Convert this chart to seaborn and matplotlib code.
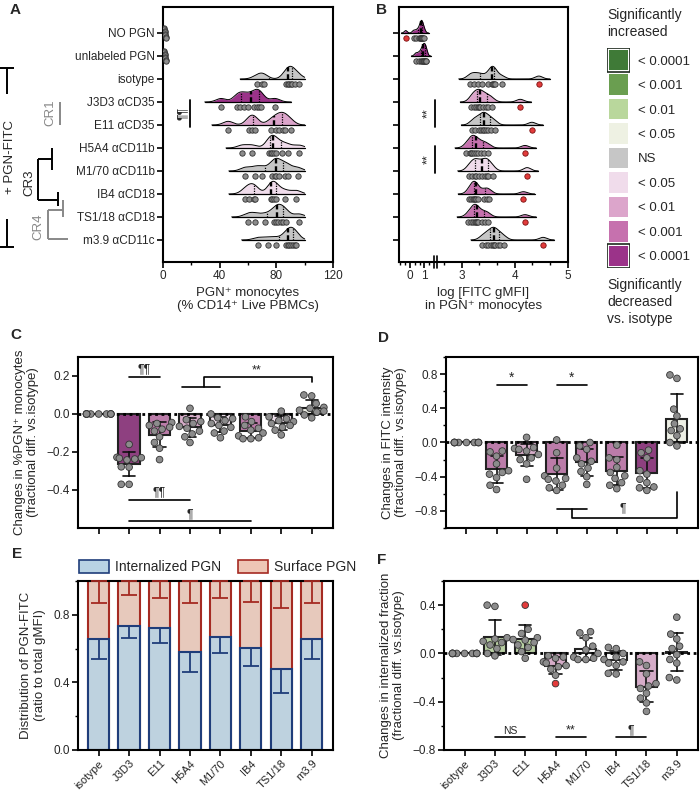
import numpy as np
import pandas as pd
import matplotlib
matplotlib.use("Agg")
import matplotlib.pyplot as plt
import seaborn as sns
from matplotlib.colors import ListedColormap
from matplotlib.patches import Patch, Rectangle
from matplotlib import transforms

sns.set_style("ticks")
plt.rcParams['font.family'] = ['Liberation Sans', 'DejaVu Sans']
plt.rcParams['font.size'] = 9
plt.rcParams['axes.linewidth'] = 1.5

# ---------------- data ----------------
rows_a = ["NO PGN", "unlabeled PGN", "isotype", "J3D3 αCD35", "E11 αCD35", "H5A4 αCD11b",
          "M1/70 αCD11b", "IB4 αCD18", "TS1/18 αCD18", "m3.9 αCD11c"]
cats = ["isotype", "J3D3", "E11", "H5A4", "M1/70", "IB4", "TS1/18", "m3.9"]

# A: % PGN+ monocytes
pct_pgn = [
    [0.8, 1.0, 1.2, 1.3, 1.5, 1.6, 1.8, 2.0],
    [0.8, 1.0, 1.2, 1.4, 1.5, 1.7, 1.9, 2.1],
    [66, 70, 71, 87, 88, 89, 90, 91, 93, 96],
    [41, 52, 54, 57, 60, 64, 66, 68, 69, 79],
    [46, 61, 63, 65, 76, 80, 82, 85, 86, 90],
    [56, 63, 75, 76, 77, 78, 80, 84, 88, 96],
    [58, 65, 70, 77, 79, 80, 82, 86, 88, 95],
    [58, 61, 64, 65, 76, 77, 78, 80, 86, 94],
    [60, 65, 72, 78, 80, 81, 83, 85, 87, 96],
    [67, 74, 80, 87, 88, 89, 90, 92, 93, 94],
]
# B: log FITC gMFI (gray points + one red outlier per row)
log_gmfi = [
    [0.25, 0.45, 0.6, 0.7, 0.75, 0.8, 0.82, 0.85, 0.9, 1.0],
    [0.4, 0.6, 0.75, 0.85, 0.9, 0.95, 1.0, 1.05, 1.1, 1.15],
    [3.15, 3.22, 3.3, 3.38, 3.5, 3.56, 3.58, 3.6, 3.62, 3.75],
    [3.18, 3.22, 3.26, 3.3, 3.33, 3.35, 3.4, 3.45, 3.5, 3.57],
    [3.2, 3.25, 3.32, 3.36, 3.4, 3.42, 3.45, 3.5, 3.55, 3.62],
    [3.08, 3.15, 3.18, 3.2, 3.23, 3.26, 3.3, 3.37, 3.42, 3.5],
    [3.13, 3.2, 3.24, 3.27, 3.33, 3.38, 3.44, 3.47, 3.5, 3.58],
    [3.14, 3.18, 3.21, 3.23, 3.25, 3.27, 3.3, 3.42, 3.47, 3.52],
    [3.12, 3.18, 3.21, 3.24, 3.26, 3.28, 3.3, 3.38, 3.44, 3.5],
    [3.38, 3.45, 3.5, 3.55, 3.58, 3.6, 3.63, 3.68, 3.72, 3.8],
]
log_gmfi_out = [-0.3, np.nan, 4.45, 4.1, 4.32, 4.19, 4.23, 4.16, 4.19, 4.53]

# C: fractional change in %PGN+
chg_pct = {
    "isotype": [0.0] * 10,
    "J3D3": [-0.16, -0.228, -0.23, -0.233, -0.237, -0.242, -0.278, -0.28, -0.37, -0.37],
    "E11": [-0.045, -0.05, -0.06, -0.07, -0.08, -0.09, -0.12, -0.15, -0.18, -0.24],
    "H5A4": [0.03, -0.03, -0.04, -0.05, -0.065, -0.075, -0.09, -0.105, -0.12, -0.15],
    "M1/70": [0.0, -0.02, -0.025, -0.035, -0.05, -0.06, -0.07, -0.09, -0.1, -0.125],
    "IB4": [-0.015, -0.04, -0.06, -0.075, -0.085, -0.1, -0.115, -0.125, -0.13, -0.13],
    "TS1/18": [0.015, -0.015, -0.025, -0.035, -0.04, -0.05, -0.06, -0.07, -0.085, -0.11],
    "m3.9": [0.1, 0.095, 0.055, 0.035, 0.03, 0.02, 0.015, 0.01, -0.005, -0.02],
}
# D: fractional change in FITC intensity
chg_fitc = {
    "isotype": [0.0] * 10,
    "J3D3": [-0.1, -0.11, -0.16, -0.25, -0.33, -0.35, -0.37, -0.41, -0.5, -0.55],
    "E11": [0.06, -0.06, -0.07, -0.08, -0.1, -0.14, -0.18, -0.2, -0.25, -0.43],
    "H5A4": [0.03, -0.12, -0.3, -0.39, -0.42, -0.43, -0.45, -0.5, -0.53, -0.56],
    "M1/70": [0.0, -0.04, -0.08, -0.18, -0.22, -0.25, -0.3, -0.34, -0.4, -0.49],
    "IB4": [-0.03, -0.18, -0.2, -0.29, -0.35, -0.39, -0.42, -0.47, -0.5, -0.54],
    "TS1/18": [-0.09, -0.12, -0.18, -0.33, -0.37, -0.43, -0.47, -0.52, -0.53, -0.56],
    "m3.9": [0.79, 0.75, 0.39, 0.31, 0.22, 0.16, 0.14, 0.08, 0.0, -0.04],
}
# E: internalized fraction (mean, SD) and surface SD
internal_mean = [0.654, 0.732, 0.722, 0.581, 0.667, 0.605, 0.478, 0.654]
internal_sd = [0.114, 0.072, 0.088, 0.122, 0.091, 0.107, 0.142, 0.117]
surface_sd = [0.128, 0.083, 0.099, 0.132, 0.102, 0.122, 0.161, 0.132]
# F: fractional change in internalized fraction
chg_int = {
    "isotype": [0.0] * 10,
    "J3D3": [0.4, 0.39, 0.13, 0.12, 0.1, 0.09, 0.07, 0.04, 0.0, -0.02],
    "E11": [0.2, 0.165, 0.13, 0.115, 0.11, 0.09, 0.07, 0.05, 0.015, -0.04],
    "H5A4": [-0.02, -0.03, -0.04, -0.07, -0.08, -0.1, -0.11, -0.13, -0.18],
    "M1/70": [0.18, 0.17, 0.13, 0.06, 0.03, 0.0, -0.03, -0.04, -0.05, -0.05],
    "IB4": [0.05, 0.04, 0.0, -0.03, -0.05, -0.07, -0.08, -0.1, -0.165, -0.17],
    "TS1/18": [-0.07, -0.1, -0.17, -0.25, -0.27, -0.29, -0.33, -0.37, -0.41, -0.48],
    "m3.9": [0.3, 0.16, 0.12, 0.06, 0.04, -0.01, -0.05, -0.08, -0.2, -0.22],
}
chg_int_out = {"E11": [0.4], "H5A4": [-0.25]}

# significance colour scale
sig_labels = ["< 0.0001", "< 0.001", "< 0.01", "< 0.05", "NS", "< 0.05", "< 0.01", "< 0.001", "< 0.0001"]
sig_colors = ["#3f7a37", "#6a9e50", "#b9d79c", "#eef1e3", "#c6c6c6", "#f0dceb", "#dca5cb", "#c671ae", "#9b3389"]
G_NS, UP05, UP01, DN05, DN01, DN001, DN0001 = (sig_colors[4], sig_colors[3], sig_colors[2],
                                               sig_colors[5], sig_colors[6], sig_colors[7], sig_colors[8])

ridge_col_a = [None, None, G_NS, DN0001, DN01, DN05, G_NS, DN05, G_NS, G_NS]
ridge_col_b = [DN0001, DN0001, G_NS, DN01, G_NS, DN001, DN05, DN001, DN001, G_NS]
bar_col_c = [G_NS, DN0001, DN001, DN01, DN05, DN001, DN05, UP05]
bar_col_d = [G_NS, DN001, DN01, DN001, DN001, DN001, DN0001, UP05]
bar_col_f = [G_NS, UP01, UP01, DN01, "white", "white", DN01, "white"]

DOT = "#8c8c8c"
DOT_EDGE = "#333333"
RED = "#e23b3b"

# ---------------- layout ----------------
W, H = 700, 791
fig = plt.figure(figsize=(W / 100, H / 100), dpi=100)


def box(l, t, r, b):
    return [l / W, 1 - b / H, (r - l) / W, (b - t) / H]


ov = fig.add_axes([0, 0, 1, 1])
ov.set_xlim(0, W)
ov.set_ylim(H, 0)
ov.axis("off")


def style_ticks(ax):
    ax.tick_params(which="major", length=4, width=1.2, labelsize=8.5, color="k", pad=2)
    ax.tick_params(which="minor", length=2.5, width=1.0, color="k")
    for s in ax.spines.values():
        s.set_linewidth(1.5)
        s.set_color("k")


def ridge(ax, vals, row, color, bw, cut=3.0, hi_clip=None, h=0.55, extra=()):
    allv = np.array(list(vals) + [e for e in extra if not np.isnan(e)])
    lo, hi = allv.min() - cut * bw, allv.max() + cut * bw
    if hi_clip is not None:
        hi = min(hi, hi_clip)
    g = np.linspace(lo, hi, 500)
    d = np.exp(-0.5 * ((g[:, None] - allv[None, :]) / bw) ** 2).sum(axis=1)
    d = d / d.max() * h
    ax.fill_between(g, row, row - d, color=color, lw=0, zorder=2)
    ax.plot(g, row - d, color="k", lw=0.7, zorder=3)
    ax.plot([lo, hi], [row, row], color="k", lw=0.9, zorder=3)
    q1, med, q3 = np.percentile(allv, [25, 50, 75])
    for q, ls, lw in [(q1, (0, (1, 1)), 0.9), (med, (0, (2, 1.2)), 1.7), (q3, (0, (1, 1)), 0.9)]:
        dq = np.interp(q, g, d)
        ax.plot([q, q], [row, row - dq], color="k", lw=lw, ls=ls, zorder=3)
    ax.scatter(vals, np.full(len(vals), row + 0.22), s=15, c=DOT, edgecolors=DOT_EDGE,
               linewidths=0.6, zorder=4)
    for e in extra:
        if not np.isnan(e):
            ax.scatter([e], [row + 0.22], s=15, c=RED, edgecolors="#7a1010", linewidths=0.6, zorder=4)


# ---------------- A ----------------
axA = fig.add_axes(box(163, 7, 333, 262))
for i, vals in enumerate(pct_pgn):
    if ridge_col_a[i] is None:
        offs = np.linspace(-0.22, 0.22, len(vals))
        axA.scatter(vals, i + offs, s=15, c=DOT, edgecolors=DOT_EDGE, linewidths=0.6, zorder=4)
    else:
        ridge(axA, vals, i, ridge_col_a[i], bw=3.5, cut=3.3, hi_clip=100)
axA.set_xlim(0, 120)
axA.set_ylim(9.96, -1.13)
axA.set_xticks([0, 40, 80, 120])
axA.set_xticks([20, 60, 100], minor=True)
axA.set_yticks(range(10))
axA.set_yticklabels(rows_a)
axA.set_xlabel("PGN⁺ monocytes\n(% CD14⁺ Live PBMCs)", fontsize=9.5, labelpad=3)
style_ticks(axA)
axA.plot([19, 19], [2.93, 4.07], color="k", lw=1.3)
axA.text(14, 3.5, "¶¶", rotation=90, ha="center", va="center", fontsize=9)

# ---------------- B ----------------
bx_d = [-10, 1.7, 2.55, 10]
bx_p = [410 - 143, 434.3, 437.9, 461.7 + 53 * 7]
axB = fig.add_axes(box(399, 7, 568, 262))
axB.set_xscale("function", functions=(lambda x: np.interp(x, bx_d, bx_p),
                                      lambda p: np.interp(p, bx_p, bx_d)))
for i, vals in enumerate(log_gmfi):
    bw = 0.1 if i < 2 else 0.07
    ridge(axB, vals, i, ridge_col_b[i], bw=bw, cut=3.0, extra=[log_gmfi_out[i]])
axB.set_xlim(-0.77, 5.0)
axB.set_ylim(9.96, -1.13)
axB.set_xticks([0, 1, 3, 4, 5])
axB.set_xticks([-0.67, -0.33, 0.33, 0.67, 1.33, 2.67, 3.33, 3.67, 4.33, 4.67], minor=True)
axB.set_yticks(range(10))
axB.set_yticklabels([])
axB.set_xlabel("log [FITC gMFI]\nin PGN⁺ monocytes", fontsize=9.5, labelpad=3)
style_ticks(axB)
tb = transforms.blended_transform_factory(axB.transData, axB.transAxes)
for xb in [1.66, 2.3]:
    axB.plot([xb, xb], [-0.022, 0.022], color="k", lw=1.2, transform=tb, clip_on=False, zorder=6)
tb2 = transforms.blended_transform_factory(axB.transAxes, axB.transData)
for r0 in [3, 5]:
    axB.plot([0.213, 0.213], [r0 - 0.07, r0 + 1.07], color="k", lw=1.3, transform=tb2)
    axB.text(0.172, r0 + 0.5, "**", rotation=90, ha="center", va="center", fontsize=9, transform=tb2)

# significance legend
lax = fig.add_axes(box(607, 48, 630, 268))
sns.heatmap(np.arange(9).reshape(9, 1), cmap=ListedColormap(sig_colors), cbar=False,
            linewidths=1.5, linecolor="white", xticklabels=False, yticklabels=sig_labels, ax=lax)
lax.yaxis.tick_right()
lax.tick_params(axis="y", length=0, pad=6, labelsize=9.5, labelrotation=0)
for r in [0, 8]:
    lax.add_patch(Rectangle((0.02, r + 0.02), 0.96, 0.96, fill=False, ec="#1e2a1e", lw=1.2))
fig.text(607 / W, 1 - 8 / H, "Significantly\nincreased", ha="left", va="top", fontsize=10, linespacing=1.25)
fig.text(607 / W, 1 - 278 / H, "Significantly\ndecreased\nvs. isotype", ha="left", va="top",
         fontsize=10, linespacing=1.25)

# left annotations of A
k = dict(color="k", lw=1.4, solid_capstyle="butt")
g = dict(color="#888888", lw=1.4, solid_capstyle="butt")
ov.plot([0, 14], [68, 68], **k)
ov.plot([7, 7], [68, 94], **k)
ov.plot([7, 7], [219, 247], **k)
ov.plot([0, 14], [247, 247], **k)
ov.text(10, 157, "+ PGN-FITC", rotation=90, ha="center", va="center", fontsize=9.5)
ov.text(50, 113, "CR1", rotation=90, ha="center", va="center", fontsize=9.5, color="#888888")
ov.plot([60, 60], [102, 125], **g)
ov.text(29, 183, "CR3", rotation=90, ha="center", va="center", fontsize=9.5)
ov.plot([52, 52], [148, 170], **k)
ov.plot([38, 52], [159, 159], **k)
ov.plot([38, 38], [159, 200], **k)
ov.plot([38, 58], [200, 200], **k)
ov.plot([58, 58], [192, 206], **k)
ov.text(38, 227, "CR4", rotation=90, ha="center", va="center", fontsize=9.5, color="#888888")
ov.plot([63, 63], [200, 217], **g)
ov.plot([48, 63], [210, 210], **g)
ov.plot([48, 48], [210, 239], **g)
ov.plot([48, 68], [239, 239], **g)


# ---------------- bar panels ----------------
def bar_panel(ax, data, colors, outliers=None):
    recs = []
    for c in cats:
        for v in data[c]:
            recs.append((c, v, "n"))
        if outliers and c in outliers:
            for v in outliers[c]:
                recs.append((c, v, "o"))
    df = pd.DataFrame(recs, columns=["cat", "val", "flag"])
    sns.barplot(data=df, x="cat", y="val", hue="cat", order=cats, hue_order=cats,
                palette=dict(zip(cats, colors)), legend=False, errorbar="sd", capsize=0.4,
                err_kws={"color": "#111111", "linewidth": 1.2}, edgecolor="#222222",
                linewidth=1.5, width=0.7, ax=ax)
    ax.axhline(0, color="k", lw=2.0, ls=(0, (1, 1.3)), zorder=2.5)
    sns.swarmplot(data=df, x="cat", y="val", hue="flag", order=cats, hue_order=["n", "o"],
                  palette={"n": DOT, "o": RED}, size=4.8, edgecolor=DOT_EDGE, linewidth=0.6,
                  legend=False, ax=ax, zorder=4)
    ax.set_xlim(-0.68, 7.7)
    ax.set_xlabel("")
    style_ticks(ax)


axC = fig.add_axes(box(78, 357, 333, 528))
bar_panel(axC, chg_pct, bar_col_c)
axC.set_ylim(-0.6, 0.3)
axC.set_yticks([-0.4, -0.2, 0.0, 0.2])
axC.set_xticks(range(8))
axC.set_xticklabels([])
axC.set_ylabel("Changes in %PGN⁺ monocytes\n(fractional diff. vs.isotype)", fontsize=9.5, labelpad=5)
axC.plot([1, 2], [0.195, 0.195], color="k", lw=1.2)
axC.text(1.5, 0.205, "¶¶", ha="center", va="bottom", fontsize=9)
axC.plot([2.75, 4.0], [0.14, 0.14], color="k", lw=1.2)
axC.plot([3.45, 3.45, 7, 7], [0.14, 0.193, 0.193, 0.17], color="k", lw=1.2)
axC.text(5.2, 0.2, "**", ha="center", va="bottom", fontsize=9)
axC.plot([1, 3], [-0.453, -0.453], color="k", lw=1.2)
axC.text(2, -0.445, "¶¶", ha="center", va="bottom", fontsize=9)
axC.plot([1, 5], [-0.565, -0.565], color="k", lw=1.2)
axC.text(3, -0.557, "¶", ha="center", va="bottom", fontsize=9)

axD = fig.add_axes(box(446, 357, 698, 528))
bar_panel(axD, chg_fitc, bar_col_d)
axD.set_ylim(-1.0, 1.0)
axD.set_yticks([-0.8, -0.4, 0.0, 0.4, 0.8])
axD.set_yticks(np.arange(-1.0, 1.01, 0.2), minor=True)
axD.set_xticks(range(8))
axD.set_xticklabels([])
axD.set_ylabel("Changes in FITC intensity\n(fractional diff. vs.isotype)", fontsize=9.5, labelpad=5)
for x0 in [1, 3]:
    axD.plot([x0, x0 + 1], [0.67, 0.67], color="k", lw=1.2)
    axD.text(x0 + 0.5, 0.68, "*", ha="center", va="bottom", fontsize=10)
axD.plot([3, 4], [-0.78, -0.78], color="k", lw=1.2)
axD.plot([3.5, 3.5, 7, 7], [-0.78, -0.88, -0.88, -0.58], color="k", lw=1.2)
axD.text(5.2, -0.77, "¶", ha="center", va="center", fontsize=9)

# E
axE = fig.add_axes(box(78, 581, 333, 750))
sns.barplot(x=cats, y=np.ones(len(cats)), order=cats, color="#eec6b5", edgecolor="#a52a22",
            linewidth=1.5, width=0.7, ax=axE)
sns.barplot(x=cats, y=internal_mean, order=cats, color="#b8d3e4", edgecolor="#1f3d7a",
            linewidth=1.5, width=0.7, ax=axE)
xs = np.arange(len(cats))
axE.errorbar(xs, internal_mean, yerr=[internal_sd, np.zeros(len(cats))], fmt="none",
             ecolor="#1f3d7a", elinewidth=1.3, capsize=6, capthick=1.3, zorder=5)
axE.errorbar(xs, np.ones(len(cats)), yerr=[surface_sd, np.zeros(len(cats))], fmt="none",
             ecolor="#a52a22", elinewidth=1.3, capsize=6, capthick=1.3, zorder=5, clip_on=False)
axE.set_xlim(-0.68, 7.7)
axE.set_ylim(0, 1.0)
axE.set_yticks([0.0, 0.4, 0.8])
axE.set_yticks([0.2, 0.6, 1.0], minor=True)
axE.set_xticks(xs)
style_ticks(axE)
axE.set_xticklabels(cats, rotation=45, ha="right", rotation_mode="anchor", fontsize=8)
axE.set_ylabel("Distribution of PGN-FITC\n(ratio to total gMFI)", fontsize=9.5, labelpad=5)
axE.legend(handles=[Patch(facecolor="#b8d3e4", edgecolor="#1f3d7a", lw=1.2),
                    Patch(facecolor="#eec6b5", edgecolor="#a52a22", lw=1.2)],
           labels=["Internalized PGN", "Surface PGN"], ncol=2, loc="lower left",
           bbox_to_anchor=(-0.03, 0.99), frameon=False, fontsize=10, handlelength=2.2,
           handleheight=1.1, columnspacing=1.2, handletextpad=0.4, borderaxespad=0.2)

# F
axF = fig.add_axes(box(444, 581, 698, 750))
bar_panel(axF, chg_int, bar_col_f, outliers=chg_int_out)
axF.set_ylim(-0.8, 0.6)
axF.set_yticks([-0.8, -0.4, 0.0, 0.4])
axF.set_yticks(np.arange(-0.8, 0.61, 0.2), minor=True)
axF.set_xticks(range(8))
axF.set_xticklabels(cats, rotation=45, ha="right", rotation_mode="anchor", fontsize=8)
axF.set_ylabel("Changes in internalized fraction\n(fractional diff. vs.isotype)", fontsize=9.5, labelpad=5)
for x0, lab, fs in [(1, "NS", 7.5), (3, "**", 9), (5, "¶", 9)]:
    axF.plot([x0, x0 + 1], [-0.695, -0.695], color="k", lw=1.2)
    axF.text(x0 + 0.5, -0.685, lab, ha="center", va="bottom", fontsize=fs)

# panel letters
for lab, x, y in [("A", 10, 3), ("B", 376, 3), ("C", 10, 328), ("D", 378, 331), ("E", 12, 547), ("F", 377, 553)]:
    fig.text(x / W, 1 - y / H, lab, ha="left", va="top", fontsize=11, fontweight="bold")

fig.savefig("out.png", dpi=100)
